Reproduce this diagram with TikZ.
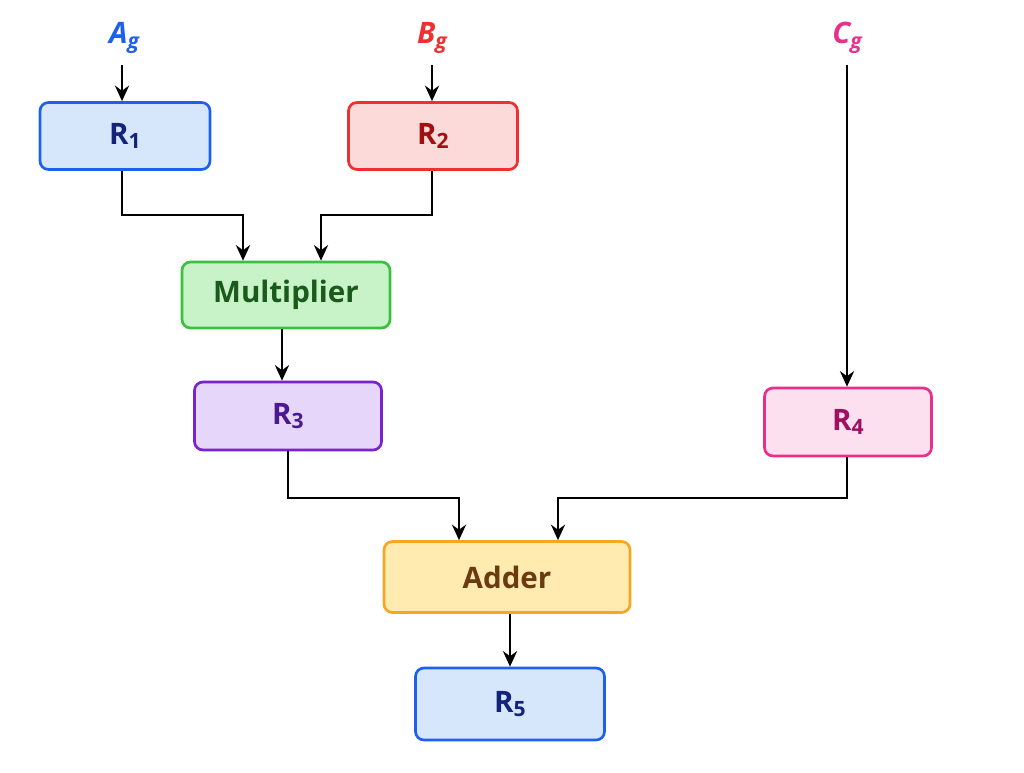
\documentclass[tikz,border=0pt]{standalone}
\usepackage{fontspec}
\setmainfont{Open Sans}
\usetikzlibrary{arrows.meta}
\definecolor{bB}{HTML}{1F5FF0}\definecolor{bF}{HTML}{D6E6FB}\definecolor{bT}{HTML}{14237A}
\definecolor{rB}{HTML}{F03030}\definecolor{rF}{HTML}{FCDADA}\definecolor{rT}{HTML}{A01010}
\definecolor{gB}{HTML}{3CC040}\definecolor{gF}{HTML}{C8F2C8}\definecolor{gT}{HTML}{1A5A1A}
\definecolor{pB}{HTML}{7A22D0}\definecolor{pF}{HTML}{E6D6FA}\definecolor{pT}{HTML}{4A1890}
\definecolor{kB}{HTML}{E8308A}\definecolor{kF}{HTML}{FCE0F0}\definecolor{kT}{HTML}{A01060}
\definecolor{oB}{HTML}{F5A623}\definecolor{oF}{HTML}{FFEBB0}\definecolor{oT}{HTML}{6A3A10}
\newcommand{\sbx}[1]{\raisebox{-0.3ex}{\fontsize{15}{15}\selectfont #1}}
\begin{document}
\begin{tikzpicture}[x=0.025cm,y=-0.025cm,
 box/.style n args={5}{draw=#1,fill=#2,text=#3,line width=1.9pt,rounded corners=6pt,minimum width=#4*0.025cm,minimum height=#5*0.025cm,font=\fontsize{21}{24}\selectfont\bfseries},
 arr/.style={line width=1.8pt,-{Stealth[length=11pt,width=10pt]}},
 lab/.style={font=\fontsize{21}{24}\selectfont\bfseries\itshape}]
\useasboundingbox (0,0) rectangle (1024,773);
\node[box={bB}{bF}{bT}{170}{67}] (r1) at (125,136) {R\sbx{1}};
\node[box={rB}{rF}{rT}{169}{67}] (r2) at (433,136) {R\sbx{2}};
\node[box={gB}{gF}{gT}{208}{66}] (mu) at (286,295) {Multiplier};
\node[box={pB}{pF}{pT}{187}{68}] (r3) at (288,416) {R\sbx{3}};
\node[box={kB}{kF}{kT}{167}{68}] (r4) at (848,422) {R\sbx{4}};
\node[box={oB}{oF}{oT}{246}{71}] (ad) at (507,577) {Adder};
\node[box={bB}{bF}{bT}{189}{72}] (r5) at (510,704) {R\sbx{5}};
\node[lab,text=bB] (a) at (124,38) {A\sbx{g}};
\node[lab,text=rB] (b) at (432,38) {B\sbx{g}};
\node[lab,text=kB] (c) at (847,38) {C\sbx{g}};
\draw[arr] (122,65) -- (r1.north-|122,0);
\draw[arr] (432,65) -- (r2.north-|432,0);
\draw[arr] (847,65) -- (r4.north-|847,0);
\draw[arr] (r1.south-|122,0) |- (243,215) -- (mu.north-|243,0);
\draw[arr] (r2.south-|432,0) |- (321,215) -- (mu.north-|321,0);
\draw[arr] (mu.south-|282,0) -- (r3.north-|282,0);
\draw[arr] (r3.south-|288,0) |- (459,498) -- (ad.north-|459,0);
\draw[arr] (r4.south-|847,0) |- (558,498) -- (ad.north-|558,0);
\draw[arr] (ad.south-|510,0) -- (r5.north-|510,0);
\end{tikzpicture}
\end{document}
